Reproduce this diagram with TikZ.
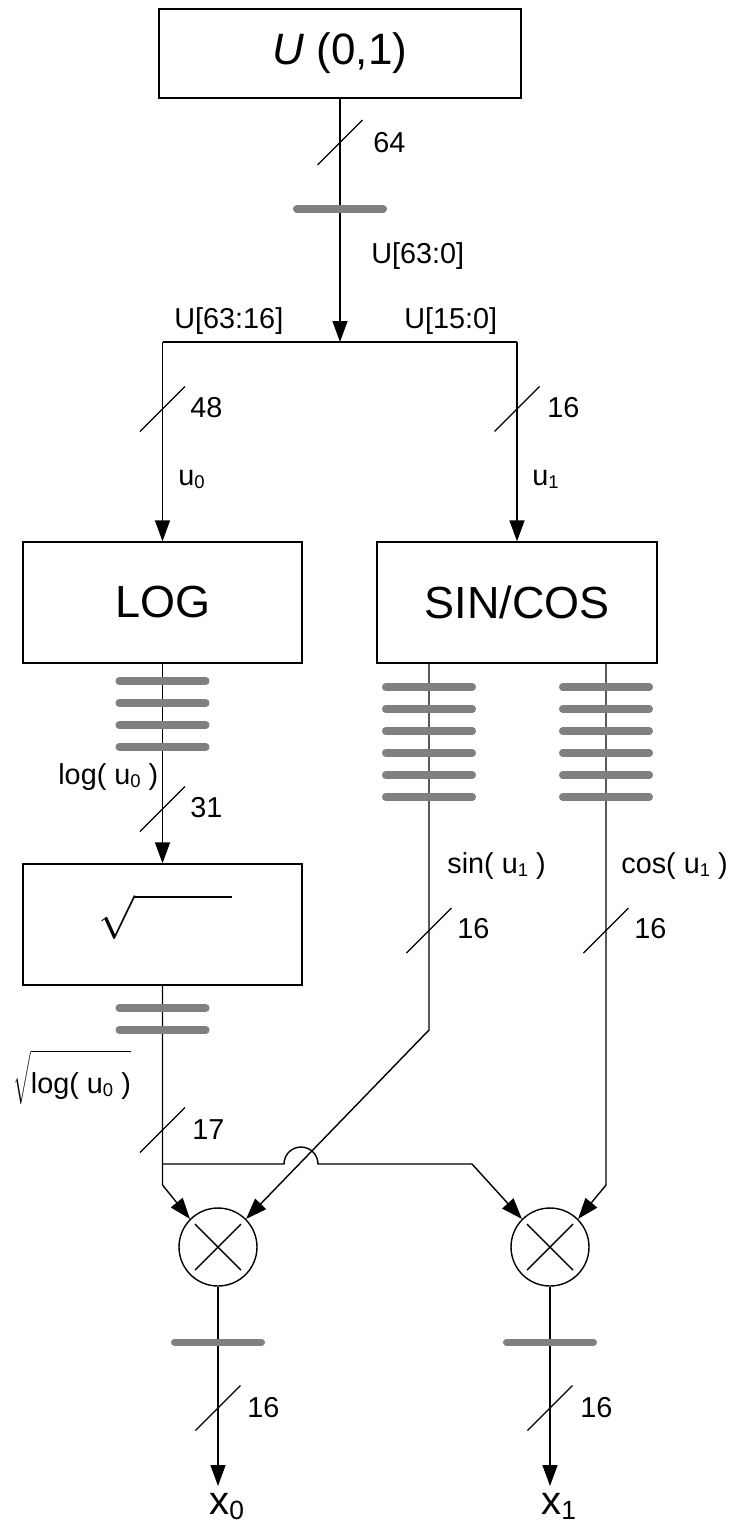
\documentclass[tikz,border=0pt]{standalone}
\usepackage{fontspec}
\setmainfont{Liberation Sans}
\usetikzlibrary{arrows.meta}

\newcommand{\lowidx}[1]{\raisebox{-2pt}{\fontsize{10.5}{12}\selectfont #1}}
\newcommand{\lowidxbig}[1]{\raisebox{-3pt}{\fontsize{15}{18}\selectfont #1}}

\begin{document}
\begin{tikzpicture}[
  x=0.02cm, y=-0.02cm,
  >={Triangle[length=0.42cm,width=0.3cm]},
  wire/.style       = {draw=black, line width=0.8pt},
  blk/.style        = {draw=black, line width=0.8pt, rectangle, inner sep=0pt,
                       minimum width=5.58cm, minimum height=2.42cm,
                       font=\fontsize{25.6}{30}\selectfont},
  mult/.style       = {draw=black, line width=0.8pt, circle, inner sep=0pt,
                       minimum size=1.56cm},
  bus bar/.style    = {draw=gray, line width=4pt, line cap=round},
  width tick/.style = {draw=black, line width=0.7pt},
  lbl/.style        = {inner sep=0pt, anchor=base west,
                       font=\fontsize{16.4}{19}\selectfont},
  outlbl/.style     = {inner sep=0pt, anchor=base west,
                       font=\fontsize{22.8}{26}\selectfont},
]
\useasboundingbox (0,0) rectangle (734,1528);

% ── Blocks ─────────────────────────────────────────────────────────────────
\node[blk, minimum width=7.24cm, minimum height=1.78cm,
      font=\fontsize{25}{29}\selectfont] (src) at (340,53.5) {\textit{U} (0,1)};
\node[blk] (log)   at (162.5,602.5) {LOG};
\node[blk, minimum width=5.6cm] (trig) at (517,602.5) {SIN/COS};
\node[blk] (sqbox) at (162.5,924.5) {};
\node[inner sep=0pt, font=\fontsize{25}{30}\selectfont] (rad) at (165,917)
  {$\sqrt{\vphantom{l}\hspace{1.95cm}}$};

% multipliers
\node[mult] (m0) at (218,1247) {};
\node[mult] (m1) at (550,1247) {};
\foreach \m in {m0,m1} {
  \draw[wire] (\m.center) ++(-23,-23) -- ++(46,46);
  \draw[wire] (\m.center) ++(-23,23) -- ++(46,-46);
}

% ── Split of U ─────────────────────────────────────────────────────────────
\coordinate (split)  at (340,342);
\coordinate (lsplit) at (log.north |- split);
\coordinate (rsplit) at (trig.north |- split);

\draw[wire,->] (src.south) -- (split);
\draw[wire] (lsplit) -- (rsplit);
\draw[wire,->] (lsplit) -- (log.north);
\draw[wire,->] (rsplit) -- (trig.north);
\draw[wire,->] (log.south) -- (sqbox.north);

% ── Into the multipliers ───────────────────────────────────────────────────
\coordinate (sinout)  at (429,663);
\coordinate (sinkink) at (429,1030);
\coordinate (cosout)  at (606,663);
\coordinate (coskink) at (606,1185);
\coordinate (lkink)   at (162.5,1185);
\coordinate (jl)      at (162.5,1164);
\coordinate (hopa)    at (284,1164);
\coordinate (rkink)   at (472,1164);

\draw[wire,->] (sqbox.south) -- (lkink) -- (m0.135);
\draw[wire,->] (sinout) -- (sinkink) -- (m0.45);
\draw[wire,->] (jl) -- (hopa) arc[start angle=180, end angle=0, radius=0.34cm]
  -- (rkink) -- (m1.135);
\draw[wire,->] (cosout) -- (coskink) -- (m1.45);

% ── Outputs ────────────────────────────────────────────────────────────────
\coordinate (o0) at (218,1486);
\coordinate (o1) at (550,1486);
\draw[wire,->] (m0.south) -- (o0);
\draw[wire,->] (m1.south) -- (o1);
\node[outlbl] (x0) at (209,1514) {x\lowidxbig{0}};
\node[outlbl] (x1) at (541,1514) {x\lowidxbig{1}};

% ── Bus bars and width ticks ───────────────────────────────────────────────
\foreach \cx/\cy in {340/209,
    162.5/681, 162.5/703, 162.5/725, 162.5/747,
    429/687, 429/709, 429/731, 429/753, 429/775, 429/797,
    606/687, 606/709, 606/731, 606/753, 606/775, 606/797,
    162.5/1008, 162.5/1030, 218/1342, 550/1342}
  \draw[bus bar] (\cx-43.5,\cy) -- (\cx+43.5,\cy);

\foreach \cx/\cy in {340/142.5, 162.5/409, 517/409, 162.5/809, 429/930.5,
    606/930.5, 162.5/1130, 218/1408, 550/1408}
  \draw[width tick] (\cx-22.5,\cy+22.5) -- (\cx+22.5,\cy-22.5);

% ── Labels ─────────────────────────────────────────────────────────────────
\node[lbl] (w64)  at (373,152)  {64};
\node[lbl] (uall) at (371,263)  {U[63:0]};
\node[lbl] (uhi)  at (174,328)  {U[63:16]};
\node[lbl] (ulo)  at (404,328)  {U[15:0]};
\node[lbl] (w48)  at (190,417)  {48};
\node[lbl] (w16a) at (547,417)  {16};
\node[lbl] (u0)   at (178,485)  {u\lowidx{0}};
\node[lbl] (u1)   at (532,485)  {u\lowidx{1}};
\node[lbl] (logu) at (58,784)   {log( u\lowidx{0} )};
\node[lbl] (w31)  at (190,817)  {31};
\node[lbl] (sinu) at (447,873)  {sin( u\lowidx{1} )};
\node[lbl] (cosu) at (621,873)  {cos( u\lowidx{1} )};
\node[lbl] (w16s) at (457,938)  {16};
\node[lbl] (w16c) at (634,938)  {16};
\node[lbl] (sqlg) at (13,1093)
  {$\sqrt{\vphantom{\rule{0pt}{0.7cm}}\hbox{log( u\lowidx{0} )}}$};
\node[lbl] (w17)  at (192,1139) {17};
\node[lbl] (w16l) at (247,1417) {16};
\node[lbl] (w16r) at (580,1417) {16};

\end{tikzpicture}
\end{document}
